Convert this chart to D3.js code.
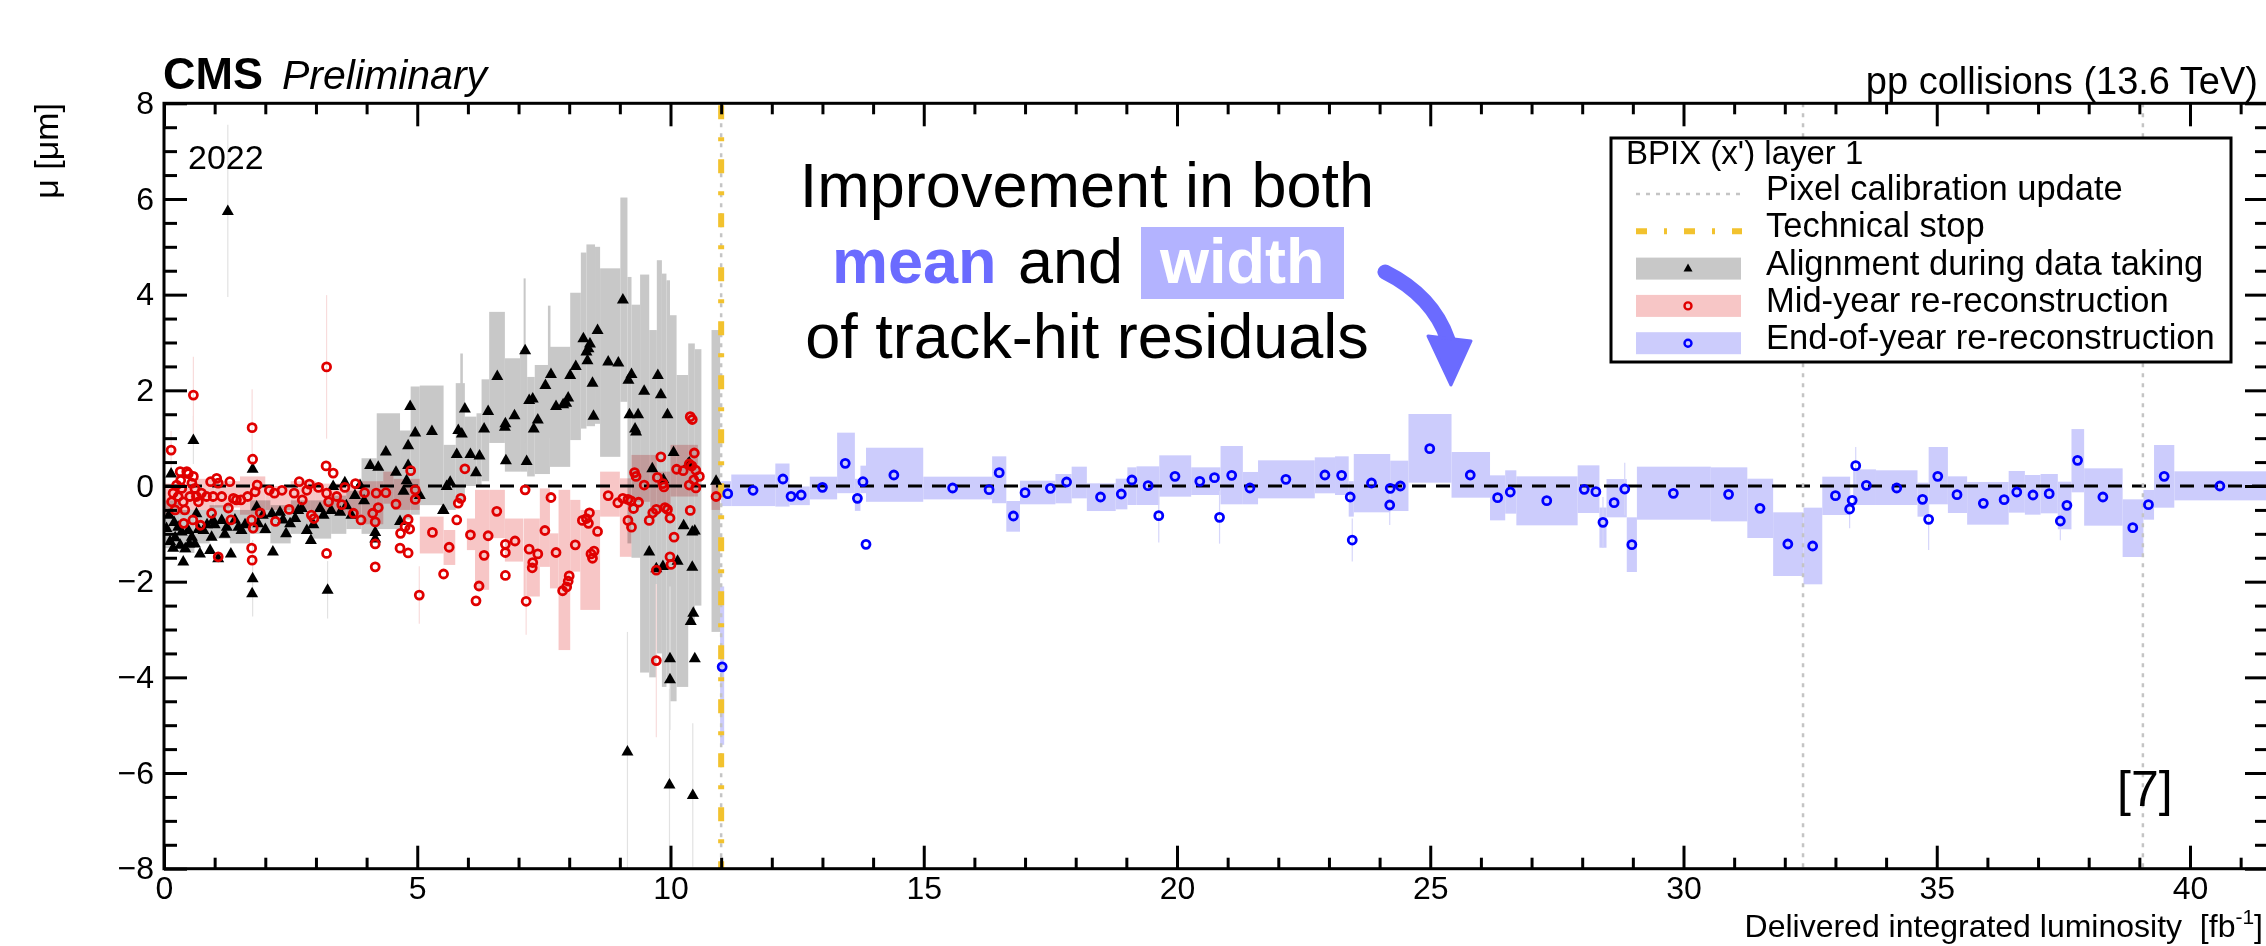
<!DOCTYPE html>
<html>
<head>
<meta charset="utf-8">
<script src="https://cdn.jsdelivr.net/npm/d3@7"></script>
<style>
body { margin: 0; background: #fff; }
svg { display: block; }
text { font-family: "Liberation Sans", Arial, Helvetica, sans-serif; }
</style>
</head>
<body>
<svg id="chart"></svg>
<script>
// ---- data (luminosity in fb^-1, mu in um) ----
const xTicks = [0, 5, 10, 15, 20, 25, 30, 35, 40];
const yTicks = [-8, -6, -4, -2, 0, 2, 4, 6, 8];
const pixelCalib = [11.0, 32.36, 39.07];
const techStop = [11.0];

const legendTitle = "BPIX (x') layer 1";
const legendLabels = ["Pixel calibration update", "Technical stop", "Alignment during data taking",
  "Mid-year re-reconstruction", "End-of-year re-reconstruction"];

// boxes: [x0, x1, lo, hi]
const alignBoxes = [
  [0.0,0.3,-1.3,-0.3],[0.3,0.6,-1.4,-0.5],[0.6,0.9,-1.2,-0.5],[0.9,1.3,-1.1,-0.4],[1.3,1.7,-1.2,-0.5],
  [1.7,2.1,-1.0,-0.3],[2.1,2.5,-1.2,-0.4],[2.5,2.9,-1.0,-0.3],[2.9,3.3,-1.1,-0.3],[3.3,3.6,-1.0,-0.2],
  [3.6,3.9,-0.9,-0.1],[3.9,4.2,-1.0,0.58],[4.2,4.66,-0.9,1.52],[4.66,4.87,-0.7,1.16],[4.87,5.05,-0.6,2.08],
  [5.05,5.52,-0.4,2.1],[5.52,5.76,-0.5,0.86],[5.76,5.94,-0.3,2.15],[5.85,5.9,0.2,2.77],[5.94,6.17,0.0,1.45],
  [6.17,6.27,0.0,1.52],[6.27,6.42,0.1,2.23],[6.42,6.73,0.9,3.64],[6.73,7.03,0.3,2.67],[7.03,7.17,0.3,2.84],
  [7.1,7.14,0.9,4.34],[7.17,7.32,0.2,2.28],[7.32,7.62,0.25,2.53],[7.58,7.63,1.0,3.77],[7.62,8.02,0.4,2.91],
  [8.02,8.23,0.96,4.04],[8.23,8.34,1.2,4.88],[8.34,8.51,1.25,5.05],[8.51,8.61,1.3,5.0],[8.61,9.01,0.61,4.55],
  [9.01,9.15,1.76,6.03],[9.15,9.23,-1.2,4.37],[9.23,9.4,-1.5,3.79],[9.4,9.58,-3.9,4.42],[9.58,9.73,-4.0,3.26],
  [9.73,9.83,-3.5,4.72],[9.83,9.92,-4.2,4.44],[9.92,9.99,-4.0,4.3],[9.99,10.12,-4.5,3.57],[10.12,10.35,-4.2,2.32],
  [10.35,10.48,-2.9,2.98],[10.48,10.61,-2.5,2.86],[10.81,10.98,-3.05,3.26]
];
const midBoxes = [
  [0.0,0.5,-0.6,0.05],[0.5,1.0,-0.5,0.15],[1.0,1.5,-0.45,0.1],[1.5,2.0,-0.6,0.2],[2.0,2.5,-0.5,0.0],
  [2.5,3.0,-0.5,0.1],[3.0,3.5,-0.55,0.05],[3.5,3.9,-0.6,0.0],[3.9,4.33,-0.8,0.1],[4.33,4.53,-0.37,0.3],
  [4.53,5.05,-0.5,0.15],[5.05,5.52,-1.41,-0.64],[5.52,5.75,-1.65,-0.92],[5.98,6.14,-1.34,-0.68],[6.14,6.42,-2.17,-0.08],
  [6.42,6.73,-1.09,-0.08],[6.73,7.09,-1.58,-0.68],[7.1,7.42,-2.31,-0.68],[7.42,7.62,-1.69,-0.05],[7.62,7.79,-2.14,-0.99],
  [7.79,8.02,-3.43,-0.08],[8.02,8.22,-1.79,-0.29],[8.22,8.61,-2.59,-0.5],[8.61,9.0,-0.64,0.3],[9.0,9.23,-1.48,0.16],
  [9.23,9.6,-0.33,0.65],[9.6,9.73,-0.6,0.65],[9.73,10.0,-0.5,0.3],[10.0,10.54,-0.22,0.86],[10.81,10.98,-0.5,0.07]
];
const endBoxes = [
  [10.98,11.06,-5.41,-2.1],[11.0,11.2,-0.42,0.1],[11.2,12.07,-0.42,0.24],[12.07,12.35,-0.43,0.47],[12.35,12.75,-0.4,-0.01],
  [12.75,13.29,-0.28,0.195],[13.29,13.64,-0.15,1.115],[13.64,13.75,-0.52,0.15],[13.75,13.86,-0.15,0.425],[13.86,14.99,-0.33,0.8],
  [14.99,16.35,-0.28,0.195],[16.35,16.63,-0.36,0.62],[16.63,16.9,-0.955,-0.314],[16.9,17.6,-0.383,0.111],[17.6,17.92,-0.362,0.251],
  [17.92,18.22,-0.258,0.404],[18.22,18.79,-0.523,0.056],[18.79,19.02,-0.488,0.153],[19.02,19.2,-0.397,0.39],[19.2,19.65,-0.397,0.411],
  [19.65,20.28,-0.223,0.641],[20.28,20.86,-0.188,0.39],[20.86,21.3,-0.383,0.836],[21.3,21.6,-0.383,0.293],[21.6,22.72,-0.258,0.537],
  [22.72,23.12,-0.153,0.599],[23.12,23.39,-0.188,0.62],[23.39,23.49,-0.64,0.1],[23.49,24.21,-0.55,0.669],[24.21,24.57,-0.523,0.53],
  [24.57,25.42,0.07,1.505],[25.42,26.18,-0.244,0.711],[26.18,26.48,-0.718,0.223],[26.48,26.7,-0.578,0.328],[26.7,27.91,-0.822,0.202],
  [27.91,28.34,-0.564,0.432],[28.34,28.48,-1.29,-0.45],[28.48,28.88,-0.655,0.146],[28.88,29.08,-1.798,-0.655],[29.08,30.54,-0.704,0.404],
  [30.54,31.26,-0.739,0.39],[31.26,31.77,-1.087,0.153],[31.77,32.37,-1.881,-0.55],[32.37,32.74,-2.055,-0.453],[32.74,33.29,-0.606,0.195],
  [33.35,33.8,-0.397,0.348],[33.8,34.62,-0.397,0.328],[34.62,34.84,-0.641,0.07],[34.84,35.22,-0.383,0.815],[35.22,35.6,-0.564,0.202],
  [35.6,36.42,-0.808,0.084],[36.42,36.74,-0.557,0.314],[36.74,37.05,-0.599,0.23],[37.05,37.39,-0.571,0.251],[37.39,37.66,-0.905,0.09],
  [37.66,37.91,-0.132,1.19],[37.91,38.67,-0.829,0.369],[38.67,39.08,-1.484,-0.279],[39.08,39.29,-0.704,-0.084],[39.29,39.69,-0.453,0.857],
  [39.69,41.6,-0.3,0.307]
];

// points: [x, mu, err]
const alignPts = [
  [0.05,-0.88],[0.12,-1.15],[0.14,0.26],[0.18,-1.29],[0.22,-1.07],[0.28,-0.85],[0.32,-1.23],[0.38,-1.58],[0.48,-0.92],
  [0.55,-1.06],[0.58,0.96,0.5],[0.61,-1.2],[0.64,-0.57],[0.71,-1.41],[0.78,-0.92],[0.91,-1.34],[0.94,-1.06],[0.97,-0.71],
  [1.07,-1.51],[1.14,-0.71],[1.24,-0.85],[1.26,5.75,1.8],[1.32,-1.41],[1.47,-0.85],[1.53,-0.92],[1.75,0.36],[1.75,-1.93,0.8],
  [1.74,-2.24],[1.83,-0.43],[1.86,-0.78],[2.13,-0.57],[2.15,-1.37],[2.29,-0.54],[2.41,-0.99],[2.49,-0.78],[2.59,-0.67],
  [2.72,-0.46],[2.82,-0.92],[2.9,-1.13],[3.08,-0.46],[3.23,-2.17,0.6],[3.34,0.0],[3.57,0.08],[3.48,-0.54],[3.77,-0.19],
  [3.87,0.02],[4.07,0.44],[4.23,0.4],[4.17,-0.96],[4.17,-1.1],[4.38,0.72],[4.58,0.3],[4.66,-0.73],[4.73,-0.1],[4.82,0.85],
  [4.82,0.44],[4.79,0.12],[4.86,1.67],[4.96,1.12],[5.05,-0.19],[5.29,1.15],[5.52,-0.5],[5.58,0.0],
  [0.1,-0.6],[0.2,-0.75],[0.35,-0.95],[0.42,-1.3],[0.5,-1.2],[0.68,-0.9],[0.85,-0.8],[1.0,-0.8],[1.2,-1.0],[1.4,-0.7],
  [1.6,-0.8],[1.95,-0.6],[2.0,-0.9],[2.35,-0.7],[2.65,-0.5],[2.95,-0.8],[3.15,-0.6],[3.3,-0.5],[3.6,-0.4],[3.7,-0.6],[3.95,-0.3],
  [5.51,-0.5],[5.65,0.09],[5.78,0.67],[5.81,1.17],[5.88,1.1],[5.94,1.62],[6.05,0.67],[6.16,0.29],[6.23,0.64],[6.32,1.2],
  [6.4,1.57],[6.58,2.3],[6.73,1.24],[6.74,1.31],[6.75,0.54],[6.92,1.48],[7.13,2.84],[7.16,0.52],[7.21,1.8],[7.28,1.83],
  [7.3,1.2],[7.38,1.39],[7.53,2.11],[7.64,2.34],[7.74,1.67],[7.88,1.71],[7.94,1.74],[7.98,1.85],[8.02,2.32],[8.13,2.51],
  [8.28,3.09],[8.34,2.81],[8.38,2.88],[8.41,2.98],[8.36,2.63],[8.46,2.16],[8.48,1.47],[8.56,3.26],[8.77,2.6],[8.97,2.58],
  [9.06,3.9],[9.17,2.22],[9.23,2.34],[9.19,1.5],[9.36,1.5],[9.3,1.2],[9.32,1.14],[9.48,1.99],[9.64,0.37],[9.75,2.32],
  [9.81,1.92],[9.94,1.5],[10.06,0.71],[10.37,0.49],[10.9,0.11],[9.58,-1.37],[9.72,-1.72],[9.85,-1.67],[9.86,0.14],
  [10.26,-0.82],[10.43,-0.95],[10.48,-0.93],[10.43,-1.69],[10.14,-1.56],[10.45,-2.65],[10.4,-2.82],[9.99,-3.6,1.5],
  [10.48,-3.6],[9.99,-4.04],[9.15,-5.55,2.5],[9.98,-6.24,2.0],[10.44,-6.46,1.5],[10.35,0.47]
];
const midPts = [
  [0.14,0.75,0.4],[0.58,1.9,0.8],[1.74,1.22,0.8],[1.75,0.56],[3.21,2.49,1.5],[3.2,0.42],[3.34,0.27],[4.87,0.32],[4.96,-0.08],
  [10.39,1.45],[10.43,1.39],[9.81,0.61],[10.47,0.69],
  [0.15,-0.33],[0.18,-0.15],[0.22,-0.5],[0.25,0.02],[0.28,-0.22],[0.32,0.3],[0.33,0.12],[0.35,-0.05],[0.38,-0.33],
  [0.39,-0.78],[0.41,-0.5],[0.45,0.3],[0.48,0.26],[0.51,-0.22],[0.55,0.06],[0.57,-0.71],[0.58,0.2],[0.61,-0.05],[0.64,-0.22],
  [0.68,-0.33],[0.72,-0.82],[0.74,-0.15],[0.84,-0.22],[0.92,0.09],[0.94,-0.57],[0.97,-0.22],[1.04,0.16],[1.07,0.06],
  [1.07,-1.48],[1.14,-0.22],[1.27,-0.46],[1.3,0.09],[1.32,-0.71],[1.37,-0.26],[1.43,-0.29],[1.52,-0.29],[1.65,-0.22],
  [1.73,-0.71],[1.76,-0.88],[1.73,-1.3],[1.74,-1.55],[1.8,-0.12],[1.84,0.02],[1.9,-0.56],[2.08,-0.09],[2.18,-0.15],
  [2.2,-0.74],[2.33,-0.09],[2.47,-0.49],[2.57,-0.15],[2.67,0.09],[2.73,-0.29],[2.82,-0.09],[2.87,0.04],[2.91,-0.61],
  [2.96,-0.68],[3.05,-0.03],[3.21,-0.15],[3.21,-1.41],[3.25,-0.33],[3.41,-0.22],[3.51,-0.39],[3.57,-0.03],
  [3.74,-0.57],[3.78,0.05],[3.89,-0.71],[3.96,-0.14],[4.12,-0.57],[4.19,-0.15],[4.17,-0.75],[4.17,-1.21],[4.17,-1.69],
  [4.23,-0.45],[4.38,-0.14],[4.58,-0.38],[4.66,-1.3],[4.67,-0.99],[4.76,-0.85],[4.82,-0.7],[4.82,-1.4],[4.85,-0.9],
  [4.96,-0.28],[5.04,-2.28,0.6],[5.3,-0.97],[5.52,-1.84],[5.63,-1.28],
  [5.94,0.36],[5.86,-0.26],[5.81,-0.36],[5.78,-0.71],[6.05,-1.02],[6.16,-2.4],[6.22,-2.09],[6.32,-1.45],[6.4,-1.04],
  [6.57,-0.53],[6.74,-1.22],[6.74,-1.39],[6.74,-1.87],[6.93,-1.15],[7.13,-0.08],[7.15,-2.41,0.7],[7.21,-1.32],[7.28,-1.6],
  [7.27,-1.71],[7.38,-1.42],[7.52,-0.93],[7.64,-0.24],[7.74,-1.39],[7.87,-2.19],[7.95,-2.11],[7.98,-1.99],[8.0,-1.88],
  [8.12,-1.23],[8.26,-0.72],[8.34,-0.68],[8.38,-0.78],[8.4,-0.56],[8.43,-1.42],[8.46,-1.51],[8.49,-1.36],[8.56,-0.95],
  [8.77,-0.2],[8.96,-0.35],[9.06,-0.26],[9.16,-0.28],[9.22,-0.31],[9.27,-0.47],[9.37,-0.34],[9.16,-0.72],[9.23,-0.86],
  [9.29,0.28],[9.32,0.2],[9.48,0.02],[9.58,-0.72],[9.65,-0.56],[9.72,-0.49],[9.72,-1.76],[9.72,-3.65,1.6],[9.74,0.18],
  [9.85,0.05],[9.87,-0.02],[9.89,-0.45],[9.94,-0.49],[9.99,-0.67],[10.07,-1.07],[9.99,-1.48],[10.01,-1.64],
  [10.12,0.35],[10.25,0.32],[10.37,0.46],[10.42,0.42],[10.5,0.33],[10.46,0.13],[10.37,0.02],[10.57,0.2],[10.5,-0.04],
  [10.39,-0.51],[10.9,-0.22]
];
const endPts = [
  [11.02,-3.78],[11.13,-0.16],[11.63,-0.09],[12.22,0.146],[12.38,-0.216],[12.58,-0.188],[13.0,-0.028],[13.45,0.474],
  [13.69,-0.258],[13.8,0.09],[13.86,-1.22],[14.41,0.23],[15.57,-0.042],[16.29,-0.077],[16.49,0.279],[16.77,-0.627],
  [17.0,-0.139],[17.5,-0.049],[17.82,0.084],[18.49,-0.23],[18.9,-0.167],[19.11,0.125],[19.43,0.007],[19.64,-0.62,0.56],
  [19.96,0.202],[20.45,0.098],[20.74,0.174],[20.84,-0.655,0.55],[21.08,0.223],[21.44,-0.042],[22.15,0.139],[22.92,0.23],
  [23.25,0.223],[23.42,-0.23],[23.46,-1.13,0.45],[23.84,0.063],[24.2,-0.397,0.42],[24.21,-0.049],[24.41,0.0],[24.99,0.78],
  [25.79,0.23],[26.33,-0.244],[26.58,-0.125],[27.3,-0.307],[28.04,-0.07],[28.27,-0.118],[28.41,-0.76,0.53],[28.63,-0.348],
  [28.84,-0.063,0.55],[28.98,-1.226],[29.8,-0.153],[30.89,-0.174],[31.51,-0.467],[32.06,-1.212],[32.55,-1.254],[33.0,-0.202],
  [33.28,-0.481,0.4],[33.33,-0.3],[33.4,0.425,0.39],[33.61,0.014],[34.21,-0.042],[34.72,-0.279],[34.84,-0.697,0.64],
  [35.02,0.202],[35.4,-0.181],[35.92,-0.362],[36.33,-0.286],[36.58,-0.125],[36.9,-0.188],[37.22,-0.16],[37.44,-0.732,0.4],
  [37.57,-0.404],[37.78,0.537],[38.28,-0.23],[38.87,-0.871],[39.18,-0.39],[39.49,0.202],[40.59,0.0]
];

// ---- layout ----
const W = 2266, H = 946;
const plot = { left: 164, right: 2268, top: 103.3, bottom: 868.7 };
const FONT = '"Liberation Sans", Arial, Helvetica, sans-serif';

const svg = d3.select("#chart").attr("width", W).attr("height", H);
svg.append("rect").attr("width", W).attr("height", H).attr("fill", "#fff");

const x = d3.scaleLinear().domain([0, 41.54]).range([plot.left, plot.right]);
const y = d3.scaleLinear().domain([-8, 8]).range([plot.bottom, plot.top]);

svg.append("clipPath").attr("id", "clip").append("rect")
  .attr("x", plot.left).attr("y", plot.top)
  .attr("width", plot.right - plot.left).attr("height", plot.bottom - plot.top);

const data = svg.append("g").attr("clip-path", "url(#clip)");

function drawBoxes(rows, color) {
  data.append("g").style("mix-blend-mode", "multiply")
    .selectAll("rect").data(rows).enter().append("rect")
    .attr("x", d => x(d[0]))
    .attr("width", d => x(d[1]) - x(d[0]))
    .attr("y", d => y(d[3]))
    .attr("height", d => y(d[2]) - y(d[3]))
    .attr("fill", color);
}
drawBoxes(alignBoxes, "#c8c8c8");
drawBoxes(midBoxes, "#f7c6c6");
drawBoxes(endBoxes, "#ccccfc");

function drawErrors(rows, color) {
  data.append("g").selectAll("line").data(rows.filter(d => d[2])).enter().append("line")
    .attr("x1", d => x(d[0])).attr("x2", d => x(d[0]))
    .attr("y1", d => y(d[1] - d[2])).attr("y2", d => y(d[1] + d[2]))
    .attr("stroke", color).attr("stroke-width", 1.2);
}
drawErrors(alignPts, "#e2e2e2");
drawErrors(midPts, "#f8dcdc");
drawErrors(endPts, "#d6d6fa");

// zero line
data.append("line")
  .attr("x1", x(0)).attr("x2", plot.right).attr("y1", y(0)).attr("y2", y(0))
  .attr("stroke", "#000").attr("stroke-width", 3.2).attr("stroke-dasharray", "14,10");

// vertical markers
data.selectAll(".calib").data(pixelCalib).enter().append("line")
  .attr("x1", d => x(d)).attr("x2", d => x(d)).attr("y1", plot.top).attr("y2", plot.bottom)
  .attr("stroke", "#c4c4c4").attr("stroke-width", 2.5).attr("stroke-dasharray", "4,6");
data.selectAll(".ts").data(techStop).enter().append("line")
  .attr("x1", d => x(d)).attr("x2", d => x(d)).attr("y1", plot.top + 2).attr("y2", plot.bottom)
  .attr("stroke", "#f2c22e").attr("stroke-width", 6).attr("stroke-dasharray", "14,18,4,18");

// markers
const tri = "M0,-6.5L6,4L-6,4Z";
data.append("g").selectAll("path").data(alignPts).enter().append("path")
  .attr("d", tri).attr("transform", d => `translate(${x(d[0])},${y(d[1])})`).attr("fill", "#000");
data.append("g").selectAll("circle").data(midPts).enter().append("circle")
  .attr("cx", d => x(d[0])).attr("cy", d => y(d[1])).attr("r", 4)
  .attr("fill", "none").attr("stroke", "#e00000").attr("stroke-width", 2.8);
data.append("g").selectAll("circle").data(endPts).enter().append("circle")
  .attr("cx", d => x(d[0])).attr("cy", d => y(d[1])).attr("r", 4)
  .attr("fill", "none").attr("stroke", "#0000ff").attr("stroke-width", 2.8);

// ---- axes ----
const xMinor = d3.range(0, 42, 1).filter(v => v % 5 !== 0);
const yMinor = d3.range(-8, 8.01, 0.5).filter(v => v % 2 !== 0);

function styleAxis(g) {
  g.select(".domain").remove();
  g.selectAll("line").attr("stroke", "#000").attr("stroke-width", 3);
  g.selectAll("text").attr("fill", "#000").attr("font-size", 32).attr("font-family", FONT);
}
svg.append("g").attr("transform", `translate(0,${plot.bottom})`)
  .call(d3.axisBottom(x).tickValues(xTicks).tickSize(-23).tickPadding(8).tickFormat(d3.format("d")))
  .call(styleAxis);
svg.append("g").attr("transform", `translate(0,${plot.bottom})`)
  .call(d3.axisBottom(x).tickValues(xMinor).tickSize(-11).tickFormat("")).call(styleAxis);
svg.append("g").attr("transform", `translate(0,${plot.top})`)
  .call(d3.axisTop(x).tickValues(xTicks).tickSize(-23).tickFormat("")).call(styleAxis);
svg.append("g").attr("transform", `translate(0,${plot.top})`)
  .call(d3.axisTop(x).tickValues(xMinor).tickSize(-11).tickFormat("")).call(styleAxis);
svg.append("g").attr("transform", `translate(${plot.left},0)`)
  .call(d3.axisLeft(y).tickValues(yTicks).tickSize(-23).tickPadding(10))
  .call(styleAxis);
svg.append("g").attr("transform", `translate(${plot.left},0)`)
  .call(d3.axisLeft(y).tickValues(yMinor).tickSize(-13).tickFormat("")).call(styleAxis);
svg.append("g").attr("transform", `translate(${plot.right},0)`)
  .call(d3.axisRight(y).tickValues(yTicks).tickSize(-23).tickFormat("")).call(styleAxis);
svg.append("g").attr("transform", `translate(${plot.right},0)`)
  .call(d3.axisRight(y).tickValues(yMinor).tickSize(-13).tickFormat("")).call(styleAxis);

svg.append("rect")
  .attr("x", plot.left).attr("y", plot.top)
  .attr("width", plot.right - plot.left).attr("height", plot.bottom - plot.top)
  .attr("fill", "none").attr("stroke", "#000").attr("stroke-width", 3);

// ---- texts ----
svg.append("text").attr("x", 163).attr("y", 89).attr("font-size", 45).attr("font-weight", "bold").text("CMS");
svg.append("text").attr("x", 282).attr("y", 89).attr("font-size", 41).attr("font-style", "italic").text("Preliminary");
svg.append("text").attr("x", 2258).attr("y", 94).attr("font-size", 38).attr("text-anchor", "end")
  .text("pp collisions (13.6 TeV)");
svg.append("text").attr("transform", "translate(58,103) rotate(-90)").attr("font-size", 34)
  .attr("text-anchor", "end").text("μ [μm]");
svg.append("text").attr("x", 188).attr("y", 169).attr("font-size", 34).text("2022");
svg.append("text").attr("x", 2117).attr("y", 806).attr("font-size", 50).text("[7]");

const xt = svg.append("text").attr("x", 2263).attr("y", 937).attr("font-size", 32).attr("text-anchor", "end")
  .attr("xml:space", "preserve");
xt.append("tspan").text("Delivered integrated luminosity  [fb");
xt.append("tspan").attr("font-size", 21).attr("dy", -13).text("-1");
xt.append("tspan").attr("dy", 13).text("]");

// annotation
const ann = svg.append("g").attr("font-size", 63);
ann.append("text").attr("x", 1087).attr("y", 207).attr("text-anchor", "middle").text("Improvement in both");
ann.append("text").attr("x", 832).attr("y", 283).attr("font-weight", "bold").attr("fill", "#6b6bff").text("mean");
ann.append("text").attr("x", 1018).attr("y", 283).text("and");
ann.append("rect").attr("x", 1141).attr("y", 227).attr("width", 203).attr("height", 72).attr("fill", "#b3b3ff");
ann.append("text").attr("x", 1160).attr("y", 283).attr("font-weight", "bold").attr("fill", "#fff").text("width");
ann.append("text").attr("x", 1087).attr("y", 358).attr("text-anchor", "middle").text("of track-hit residuals");
ann.append("path").attr("d", "M1385,272 Q1433,296 1448,340")
  .attr("fill", "none").attr("stroke", "#6b6bff").attr("stroke-width", 15).attr("stroke-linecap", "round");
ann.append("path").attr("d", "M1428,336 L1471,341 L1451,385 Z").attr("fill", "#6b6bff")
  .attr("stroke", "#6b6bff").attr("stroke-width", 3).attr("stroke-linejoin", "round");

// ---- legend ----
const lg = svg.append("g");
lg.append("rect").attr("x", 1611).attr("y", 138).attr("width", 620).attr("height", 224)
  .attr("fill", "#fff").attr("stroke", "#000").attr("stroke-width", 3);
lg.append("text").attr("x", 1626).attr("y", 164).attr("font-size", 33).text(legendTitle);
const rowY = i => 200 + i * 37.3;
lg.selectAll(".lab").data(legendLabels).enter().append("text")
  .attr("x", 1766).attr("y", (d, i) => rowY(i)).attr("font-size", 34.5).text(d => d);
lg.append("line").attr("x1", 1636).attr("x2", 1742).attr("y1", rowY(0) - 6).attr("y2", rowY(0) - 6)
  .attr("stroke", "#c4c4c4").attr("stroke-width", 2.5).attr("stroke-dasharray", "4,6");
lg.append("line").attr("x1", 1636).attr("x2", 1742).attr("y1", rowY(1) - 6).attr("y2", rowY(1) - 6)
  .attr("stroke", "#f2c22e").attr("stroke-width", 6).attr("stroke-dasharray", "11,17,3,17");
const swatch = ["#c8c8c8", "#f7c6c6", "#ccccfc"];
swatch.forEach((c, k) => {
  const cy = rowY(k + 2) - 6;
  lg.append("rect").attr("x", 1636).attr("y", cy - 11).attr("width", 105).attr("height", 22).attr("fill", c);
  if (k === 0) {
    lg.append("path").attr("d", "M0,-5L4.5,3L-4.5,3Z").attr("transform", `translate(1688,${cy})`).attr("fill", "#000");
  } else {
    lg.append("circle").attr("cx", 1688).attr("cy", cy).attr("r", 3.5).attr("fill", "none")
      .attr("stroke", k === 1 ? "#e00000" : "#0000ff").attr("stroke-width", 2.4);
  }
});
</script>
</body>
</html>
